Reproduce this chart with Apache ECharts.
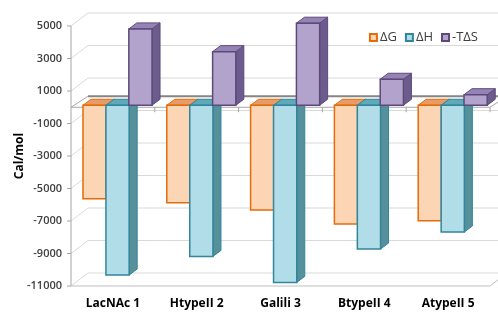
<!DOCTYPE html>
<html>
<head>
<meta charset="utf-8">
<script src="https://cdn.jsdelivr.net/npm/echarts@6/dist/echarts.min.js"></script>
<style>
  html, body { margin: 0; padding: 0; background: #fff; }
  #chart { width: 498px; height: 312px; }
</style>
</head>
<body>
<div id="chart"></div>
<script>
// data
const categories = ['LacNAc 1', 'HtypeII 2', 'Galili 3', 'BtypeII 4', 'AtypeII 5'];
const dG = [-5750, -6000, -6450, -7300, -7100];
const dH = [-10450, -9300, -10900, -8850, -7800];
const tdS = [4700, 3300, 5050, 1600, 650];
const yTicks = [5000, 3000, 1000, -1000, -3000, -5000, -7000, -9000, -11000];

const FONT = 'Open Sans';
const WALL = [17, -13];   // back wall offset
const DEPTH = [8, -6];    // bar depth
const BAR_W = 0.277;      // bar width, in bands
const SHIFT = -2;         // bars sit a bit behind the front plane

const chart = echarts.init(document.getElementById('chart'));

function seg(x1, y1, x2, y2, color, w) {
  return { type: 'line', shape: { x1, y1, x2, y2 }, style: { stroke: color, lineWidth: w || 1 } };
}
function poly(points, color, w) {
  return { type: 'polyline', shape: { points }, style: { stroke: color, lineWidth: w || 1, fill: null } };
}

// gridlines on side + back wall
function renderGrid(params, api) {
  const cs = params.coordSys;
  const y = api.coord([0, api.value(1)])[1];
  const l = cs.x;
  return {
    type: 'group',
    children: [
      poly([[l, y], [l + WALL[0], y + WALL[1]], [l + cs.width + WALL[0], y + WALL[1]]], '#D9D9D9'),
      seg(l - 4, y, l, y, '#A6A6A6')
    ]
  };
}

// axis frame, bottom edge and the floor at zero
function renderFrame(params, api) {
  const cs = params.coordSys;
  const l = cs.x, r = cs.x + cs.width, t = cs.y, b = cs.y + cs.height;
  const y0 = api.coord([0, 0])[1];
  const band = api.size([1, 0])[0];
  const kids = [
    seg(l, t, l, b, '#A6A6A6'),
    poly([[l, b], [r, b], [r + WALL[0], b + WALL[1]]], '#BFBFBF'),
    seg(l + WALL[0], y0 + WALL[1] + 2, r + WALL[0], y0 + WALL[1] + 2, '#858585', 2),
    poly([[l, y0], [l + WALL[0], y0 + WALL[1] + 2]], '#A6A6A6'),
    poly([[l, y0], [r, y0], [r + WALL[0], y0 + WALL[1] + 2]], '#A6A6A6')
  ];
  for (let k = 1; k <= categories.length; k++) {
    kids.push(seg(l + k * band, y0, l + k * band, y0 + 5, '#A6A6A6'));
  }
  return { type: 'group', children: kids };
}

function bar3d(offset, c) {
  return function (params, api) {
    const band = api.size([1, 0])[0];
    const base = api.coord([api.value(0), 0]);
    const end = api.coord([api.value(0), api.value(1)]);
    const x1 = base[0] + band * offset;
    const x2 = x1 + band * BAR_W;
    const yA = Math.min(base[1], end[1]) + SHIFT;
    const yB = Math.max(base[1], end[1]) + SHIFT;
    const dx = DEPTH[0], dy = DEPTH[1];
    return {
      type: 'group',
      children: [
        { type: 'polygon', shape: { points: [[x2, yA], [x2 + dx, yA + dy], [x2 + dx, yB + dy], [x2, yB]] },
          style: { fill: c.side, stroke: c.border, lineWidth: 1 } },
        { type: 'polygon', shape: { points: [[x1, yA], [x1 + dx, yA + dy], [x2 + dx, yA + dy], [x2, yA]] },
          style: { fill: c.top, stroke: c.border, lineWidth: 1 } },
        { type: 'rect', shape: { x: x1, y: yA, width: x2 - x1, height: yB - yA },
          style: { fill: c.front, stroke: c.border, lineWidth: 1.5 } }
      ]
    };
  };
}

const cG = { front: '#FCD5B5', top: '#E59C68', side: '#D08A55', border: '#E46C0A' };
const cH = { front: '#B0DDE7', top: '#5FAAB8', side: '#56909A', border: '#31859C' };
const cS = { front: '#B1A3CC', top: '#9484B5', side: '#6C5C8D', border: '#5F497A' };

function barSeries(name, values, offset, c) {
  return {
    name: name,
    type: 'custom',
    z: 3,
    renderItem: bar3d(offset, c),
    encode: { x: 0, y: 1 },
    itemStyle: { color: c.front, borderColor: c.border, borderWidth: 1.5 },
    data: values.map((v, i) => [i, v])
  };
}

const option = {
  animation: false,
  textStyle: { fontFamily: FONT },
  grid: { left: 71, right: 8, top: 26, bottom: 26, outerBoundsMode: 'none', containLabel: false },
  legend: {
    data: ['ΔG', 'ΔH', '-TΔS'],
    right: 15,
    top: 26,
    icon: 'rect',
    itemWidth: 7,
    itemHeight: 7,
    itemGap: 8,
    textStyle: { fontFamily: FONT, fontSize: 13, color: '#404040', padding: [0, 0, 0, -2] }
  },
  xAxis: {
    type: 'category',
    data: categories,
    axisLine: { show: false, onZero: false },
    axisTick: { show: false },
    axisLabel: { fontFamily: FONT, fontSize: 12, fontWeight: 'bold', color: '#000', margin: 12 }
  },
  yAxis: {
    type: 'value',
    min: -11000,
    max: 5000,
    interval: 1000,
    name: 'Cal/mol',
    nameLocation: 'middle',
    nameGap: 45,
    nameMoveOverlap: false,
    nameTextStyle: { fontFamily: FONT, fontSize: 12, fontWeight: 'bold', color: '#000' },
    axisLine: { show: false },
    axisTick: { show: false },
    splitLine: { show: false },
    axisLabel: {
      fontFamily: FONT, fontSize: 11, fontWeight: 600, color: '#404040', margin: 9,
      formatter: v => (yTicks.indexOf(v) >= 0 ? String(v) : '')
    }
  },
  series: [
    { type: 'custom', silent: true, z: 1, renderItem: renderGrid, encode: { x: 0, y: 1 },
      data: yTicks.map(v => [0, v]) },
    { type: 'custom', silent: true, z: 2, renderItem: renderFrame, encode: { x: 0, y: 1 },
      data: [[0, 0]] },
    barSeries('ΔG', dG, -0.357, cG),
    barSeries('ΔH', dH, -0.083, cH),
    barSeries('-TΔS', tdS, 0.19, cS)
  ]
};

chart.setOption(option);
</script>
</body>
</html>
